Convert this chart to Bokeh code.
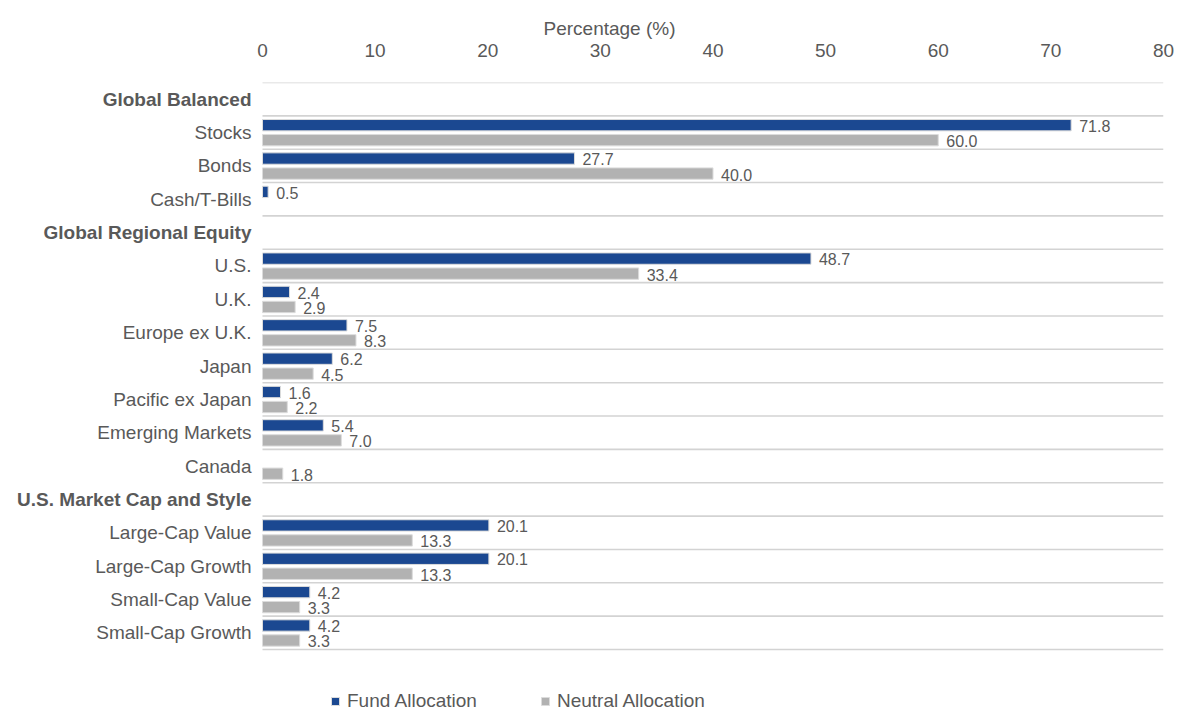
from bokeh.plotting import figure
from bokeh.models import (ColumnDataSource, Range1d, FixedTicker, LabelSet,
                          Legend, LegendItem)
from bokeh.core.properties import value
from bokeh.transform import dodge
from bokeh.embed import file_html
from bokeh.resources import INLINE
import math

# ---- data ----
rows = ["Global Balanced", "Stocks", "Bonds", "Cash/T-Bills",
        "Global Regional Equity", "U.S.", "U.K.", "Europe ex U.K.", "Japan",
        "Pacific ex Japan", "Emerging Markets", "Canada",
        "U.S. Market Cap and Style", "Large-Cap Value", "Large-Cap Growth",
        "Small-Cap Value", "Small-Cap Growth"]
is_header = [True, False, False, False,
             True, False, False, False, False, False, False, False,
             True, False, False, False, False]
nan = float("nan")
fund = [nan, 71.8, 27.7, 0.5,
        nan, 48.7, 2.4, 7.5, 6.2, 1.6, 5.4, nan,
        nan, 20.1, 20.1, 4.2, 4.2]
neutral = [nan, 60.0, 40.0, nan,
           nan, 33.4, 2.9, 8.3, 4.5, 2.2, 7.0, 1.8,
           nan, 13.3, 13.3, 3.3, 3.3]
x_ticks = [0, 10, 20, 30, 40, 50, 60, 70, 80]
X_MAX = 80

FONT = "Liberation Sans"
TXT = "#595959"
BLUE = "#1B4891"
GREY = "#B2B2B2"

def fmt(v):
    return "" if math.isnan(v) else f"{v:.1f}"

n = len(rows)
centers = [i + 0.5 for i in range(n)]
src = ColumnDataSource(dict(
    y=centers,
    fund=fund,
    neutral=neutral,
    fund_lbl=[fmt(v) for v in fund],
    neutral_lbl=[fmt(v) for v in neutral],
    name=rows,
    style=["bold" if h else "normal" for h in is_header],
    zero=[0] * n,
))
bounds = list(range(n + 1))
grid_src = ColumnDataSource(dict(y=bounds, x0=[0] * len(bounds), x1=[X_MAX] * len(bounds)))

# layout geometry (pixels)
W, H = 1180, 717
LEFT_PX, RIGHT_PX = 262, 1163      # value 0 and value 80
TOP_PX, ROWS_BOTTOM_PX = 82, 649
px_per_unit = (RIGHT_PX - LEFT_PX) / X_MAX
row_px = (ROWS_BOTTOM_PX - TOP_PX) / n
frame_h = H - TOP_PX

p = figure(width=W, height=H, output_backend="svg", toolbar_location=None,
           x_range=Range1d(-LEFT_PX / px_per_unit, X_MAX),
           y_range=Range1d(frame_h / row_px, 0),
           x_axis_location="above", title="Percentage (%)",
           min_border_left=0, min_border_right=W - RIGHT_PX,
           min_border_top=TOP_PX, min_border_bottom=0)
p.outline_line_color = None
p.background_fill_color = "white"
p.yaxis.visible = False
p.xgrid.grid_line_color = None
p.ygrid.grid_line_color = None

# title
p.title.align = "left"
p.title.offset = 543
p.title.text_font = FONT
p.title.text_font_size = "19px"
p.title.text_font_style = "normal"
p.title.text_color = TXT
p.title.standoff = 4

# row separators
p.segment(x0="x0", x1="x1", y0="y", y1="y", source=grid_src,
          line_color="#D3D3D3", line_width=1.6)

# bars
r_fund = p.hbar(y=dodge("y", -0.22, range=p.y_range), right="fund", left=0,
                height=0.34, source=src, fill_color=BLUE,
                line_color="#DCDCDC", line_width=1)
r_neu = p.hbar(y=dodge("y", 0.23, range=p.y_range), right="neutral", left=0,
               height=0.34, source=src, fill_color=GREY,
               line_color="#DCDCDC", line_width=1)

# value labels
p.add_layout(LabelSet(x="fund", y=dodge("y", -0.2, range=p.y_range), text="fund_lbl",
                      source=src, x_offset=8, text_baseline="middle",
                      text_font=value(FONT), text_font_size="16px", text_color=TXT))
p.add_layout(LabelSet(x="neutral", y=dodge("y", 0.26, range=p.y_range), text="neutral_lbl",
                      source=src, x_offset=8, text_baseline="middle",
                      text_font=value(FONT), text_font_size="16px", text_color=TXT))

# category labels
p.text(x="zero", y="y", text="name", source=src, x_offset=-11,
       text_align="right", text_baseline="middle",
       text_font=value(FONT), text_font_size="19px",
       text_font_style="style", text_color=TXT)

# x axis (top)
xa = p.xaxis[0]
xa.ticker = FixedTicker(ticks=x_ticks)
xa.axis_line_color = None
xa.major_tick_line_color = None
xa.minor_tick_line_color = None
xa.major_label_text_font = FONT
xa.major_label_text_font_size = "19px"
xa.major_label_text_color = TXT
xa.major_label_standoff = 20

# legend
legend = Legend(items=[LegendItem(label="Fund Allocation", renderers=[r_fund]),
                       LegendItem(label="Neutral Allocation", renderers=[r_neu])],
                orientation="horizontal", location=(330, 5),
                glyph_width=10, glyph_height=10, label_standoff=7, spacing=63,
                padding=0, margin=0, border_line_color=None,
                background_fill_alpha=0,
                label_text_font=FONT, label_text_font_size="19px",
                label_text_color=TXT)
p.add_layout(legend, "center")

open("out.html", "w").write(file_html(p, INLINE))
